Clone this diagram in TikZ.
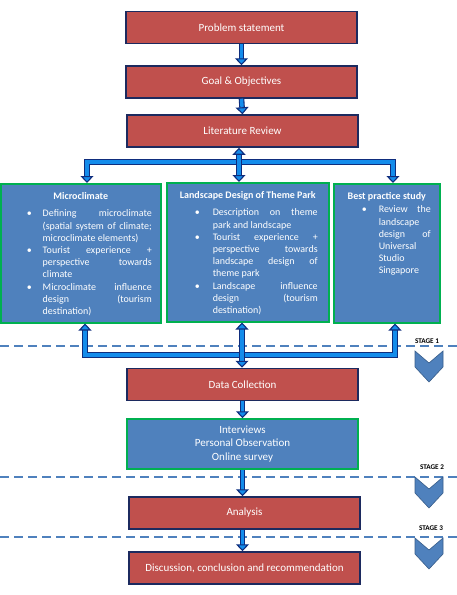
\documentclass[tikz,border=0pt]{standalone}
\usepackage{fontspec}
\setmainfont{Carlito}
\usepackage{tikz}
\usetikzlibrary{arrows.meta,positioning,calc}
\definecolor{rouge}{RGB}{192,80,77}
\definecolor{marine}{RGB}{28,42,95}
\definecolor{bleu}{RGB}{79,129,189}
\definecolor{bleufonce}{RGB}{56,93,138}
\definecolor{vert}{RGB}{0,176,80}
\definecolor{flecheclair}{RGB}{20,140,235}
\definecolor{flechefonce}{RGB}{15,45,125}
\hyphenpenalty=10000
\exhyphenpenalty=10000
\newenvironment{puces}[3]{\begin{list}{\textbullet}{\setlength{\leftmargin}{#1}\setlength{\rightmargin}{#2}\setlength{\labelsep}{#3}\setlength{\labelwidth}{5pt}\setlength{\itemsep}{0pt}\setlength{\parsep}{0pt}\setlength{\topsep}{0pt}\setlength{\partopsep}{0pt}}\sloppy}{\end{list}}

\begin{document}
\begin{tikzpicture}[x=1pt,y=-1pt,
	base/.style={line width=1.5pt,text=white},
	redbox/.style={base,draw=marine,fill=rouge,minimum width=231pt,minimum height=32pt,font=\fontsize{11}{13.4}\selectfont},
	greenbox/.style={base,draw=vert,fill=bleu},
	listbox/.style={greenbox,inner sep=0pt,anchor=north west,font=\fontsize{10}{12.2}\selectfont},
	flow/.style={draw=flechefonce,line width=1.1pt,double=flecheclair,double distance=3.4pt,->},
	>={Triangle[width=13pt,length=7pt,fill=flecheclair]},
	pointille/.style={draw=bleu,line width=2.2pt,dash pattern=on 9pt off 5pt},
	chevron/.style={fill=bleu,draw=bleufonce,line width=0.6pt},
	stage/.style={font=\fontsize{7.2}{8}\selectfont\bfseries,text=black}]
	\useasboundingbox (0,0) rectangle (457,595);
	
	\foreach \y in {346,477,537}
	\draw[pointille] (0,\y)--(457,\y);
	
	\foreach \t/\n/\lx in {351/1/427,477/2/432,538/3/431}{
		\filldraw[chevron] (415,\t)--(429,\t+12)--(443,\t)--(443,\t+16)--(429,\t+31)--(415,\t+16)--cycle;
		\node[stage] (st\n) at (\lx,\t-10) {STAGE \n};
	}
	
	\node[redbox] (ps) at (241.5,27.5) {Problem statement};
	\node[redbox] (go) at (241.5,82) {Goal \& Objectives};
	\node[redbox] (lr) at (242.5,131) {Literature Review};
	
	\node[listbox] (mc) at (0,183) {\parbox[c][139pt][t]{160pt}{\vspace*{9pt}{\centering\textbf{Microclimate}\par}\vspace{5pt}
			\begin{puces}{42pt}{9pt}{11pt}
				\item Defining microclimate (spatial system of climate; microclimate elements)
				\item Tourist experience + perspective towards climate
				\item Microclimate influence design (tourism destination)
	\end{puces}}};
	\node[listbox] (lp) at (166,182) {\parbox[c][139pt][t]{162pt}{\vspace*{9pt}{\centering\textbf{Landscape Design of Theme Park}\par}\vspace{5pt}
			\begin{puces}{46pt}{11pt}{13pt}
				\item Description on theme park and landscape
				\item Tourist experience + perspective towards landscape design of theme park
				\item Landscape influence design (tourism destination)
	\end{puces}}};
	\node[listbox] (bp) at (333,183) {\parbox[c][139pt][t]{106pt}{\vspace*{9pt}{\centering\textbf{Best practice study}\par}\vspace{1pt}
			\begin{puces}{45pt}{9pt}{12pt}
				\item Review the landscape design of Universal Studio Singapore
	\end{puces}}};
	
	\node[redbox] (dc) at (242.5,384.5) {Data Collection};
	\node[greenbox,minimum width=231pt,minimum height=50pt,align=center,font=\fontsize{11}{13.4}\selectfont] (iv) at (242.5,444) {Interviews\\Personal Observation\\Online survey};
	\node[redbox] (an) at (244.5,513) {Analysis};
	\node[redbox] (dis) at (244.5,568) {Discussion, conclusion and recommendation};
	
	\coordinate (tl) at (87,162);
	\coordinate (tm) at (239,162);
	\coordinate (tr) at (393,162);
	\coordinate (bl) at (85,355);
	\coordinate (bm) at (242,355);
	\coordinate (br) at (395,355);
	
	\draw[flow] (ps.south)--(go.north);
	\draw[flow] (go.south)--(lr.north);
	\draw[flow,<->] (tl |- mc.north)--(tl)--(tr)--(tr |- bp.north);
	\draw[flow,<->] (tm |- lr.south)--(tm |- lp.north);
	\draw[flow,<->] (bl |- mc.south)--(bl)--(br)--(br |- bp.south);
	\draw[flow,<->] (bm |- lp.south)--(bm |- dc.north);
	\draw[flow] (dc.south)--(iv.north);
	\draw[flow] (iv.south)--(iv.south |- an.north);
	\draw[flow] (iv.south |- an.south)--(iv.south |- dis.north);
\end{tikzpicture}
\end{document}
